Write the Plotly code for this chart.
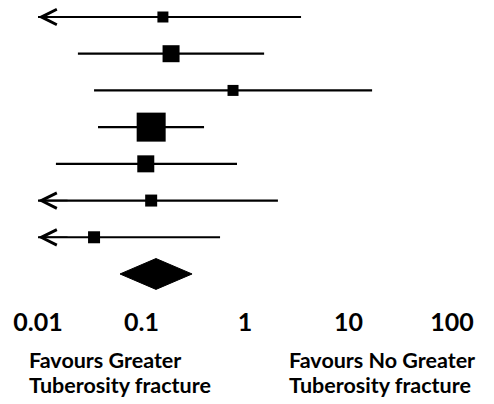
import numpy as np
import plotly.graph_objects as go

# ---- data (odds ratios) ----
studies = ["Study 1", "Study 2", "Study 3", "Study 4", "Study 5", "Study 6", "Study 7"]
estimate = [0.161, 0.193, 0.766, 0.124, 0.110, 0.124, 0.0348]
lower = [0.005, 0.0243, 0.0348, 0.038, 0.0149, 0.005, 0.005]
upper = [3.48, 1.53, 16.9, 0.402, 0.837, 2.08, 0.574]
weight_px = [11, 17, 11, 29, 17, 12, 12]  # marker size (study weight)
pooled_est = 0.138
pooled_lo = 0.062
pooled_hi = 0.308
tick_vals = [0.01, 0.1, 1, 10, 100]
tick_text = ["0.01", "0.1", "1", "10", "100"]
left_label = ["Favours Greater", "Tuberosity fracture"]
right_label = ["Favours No Greater", "Tuberosity fracture"]

XMIN, XMAX = 0.01, 100
FONT = "Lato"

fig = go.Figure()
rows = list(range(1, len(studies) + 1))
annotations = []
for i, (e, lo, hi) in enumerate(zip(estimate, lower, upper)):
    y = rows[i]
    lo_c = max(lo, XMIN)
    fig.add_trace(go.Scatter(x=[lo_c, hi], y=[y, y], mode="lines",
                             line=dict(color="black", width=2.2),
                             hoverinfo="skip", showlegend=False))
    if lo < XMIN:
        annotations.append(dict(
            x=np.log10(lo_c), y=y, ax=np.log10(lo_c) + 0.3, ay=y,
            xref="x", yref="y", axref="x", ayref="y",
            showarrow=True, arrowhead=5, arrowsize=1.9, arrowwidth=1.6,
            arrowcolor="black", text=""))

fig.add_trace(go.Scatter(x=estimate, y=rows, mode="markers",
                         marker=dict(symbol="square", size=weight_px, color="black",
                                     opacity=1, line=dict(width=0)),
                         showlegend=False, hoverinfo="skip"))

yd = len(studies) + 1
h = 0.42
fig.add_trace(go.Scatter(
    x=[pooled_lo, pooled_est, pooled_hi, pooled_est, pooled_lo],
    y=[yd, yd - h, yd, yd + h, yd],
    mode="lines", fill="toself", fillcolor="black",
    line=dict(color="black", width=1), showlegend=False, hoverinfo="skip"))

lab_font = dict(family=FONT, size=21.5, color="black", weight="bold")
for j, txt in enumerate(left_label):
    annotations.append(dict(x=-0.027, y=-0.181 - j * 0.082, xref="paper", yref="paper",
                            xanchor="left", yanchor="middle", text=txt,
                            showarrow=False, font=lab_font))
for j, txt in enumerate(right_label):
    annotations.append(dict(x=0.601, y=-0.181 - j * 0.082, xref="paper", yref="paper",
                            xanchor="left", yanchor="middle", text=txt,
                            showarrow=False, font=lab_font))

fig.update_layout(
    width=494, height=404,
    margin=dict(l=38, r=42, t=0, b=99),
    plot_bgcolor="white", paper_bgcolor="white",
    annotations=annotations,
    xaxis=dict(type="log", range=[np.log10(XMIN), np.log10(XMAX)],
               tickvals=tick_vals, ticktext=tick_text, showgrid=False,
               zeroline=False, showline=False, ticks="",
               tickfont=dict(family=FONT, size=25, color="black", weight="bold")),
    yaxis=dict(range=[8.845, 0.537], visible=False, showgrid=False, zeroline=False),
)

fig.write_html("out.html")
